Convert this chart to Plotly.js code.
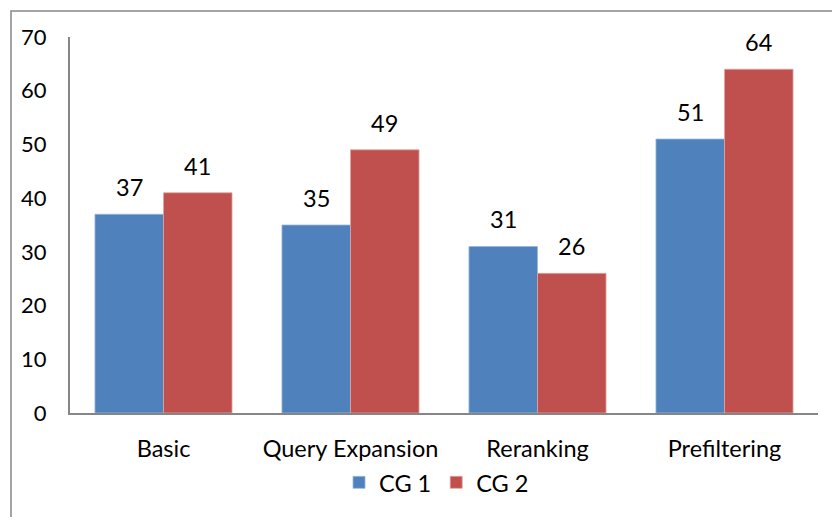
<!DOCTYPE html>
<html>
<head>
<meta charset="utf-8">
<script src="https://cdn.plot.ly/plotly-3.0.1.min.js"></script>
<style>body{margin:0;background:#fff}#chart{width:832px;height:517px}</style>
</head>
<body>
<div id="chart"></div>
<script>
const categories = ["Basic", "Query Expansion", "Reranking", "Prefiltering"];
const seriesNames = ["CG 1", "CG 2"];
const cg1 = [37, 35, 31, 51];
const cg2 = [41, 49, 26, 64];
const yTicks = [0, 10, 20, 30, 40, 50, 60, 70];

const colors = ["#4F81BD", "#C0504D"];
const FONT = "Lato, 'Open Sans', sans-serif";
const FS = 23.5;
const allSeries = [cg1, cg2];

const traces = allSeries.map((vals, i) => ({
  type: "bar",
  name: seriesNames[i],
  x: categories,
  y: vals,
  marker: {color: colors[i], line: {color: i === 0 ? "#9BB7DA" : "#E0A4A2", width: 0.8}},
  hoverinfo: "x+y"
}));

const barHalf = 34.25;
const annotations = [];
allSeries.forEach((vals, i) => {
  vals.forEach((v, j) => {
    annotations.push({
      x: categories[j], y: v, xref: "x", yref: "y",
      text: String(v), showarrow: false,
      xshift: i === 0 ? -barHalf : barHalf,
      yanchor: "bottom", yshift: 11,
      font: {family: FONT, size: FS, color: "#000"}
    });
  });
});

const layout = {
  width: 832, height: 517,
  margin: {l: 70, r: 14, t: 37, b: 104},
  paper_bgcolor: "#fff", plot_bgcolor: "#fff",
  barmode: "group", bargap: 0.267, bargroupgap: 0,
  showlegend: true,
  legend: {orientation: "h", x: 0.49, xanchor: "center", y: -0.185, yanchor: "middle",
           bgcolor: "rgba(0,0,0,0)",
           font: {family: FONT, size: FS, color: "#000"}, itemwidth: 30, traceorder: "normal"},
  xaxis: {showline: true, linecolor: "#868686", linewidth: 2, showgrid: false, ticks: "",
          ticklabelstandoff: 14, tickfont: {family: FONT, size: FS, color: "#000"}, fixedrange: true},
  yaxis: {range: [0, 70], tickvals: yTicks, ticktext: yTicks.map(String), showline: true,
          linecolor: "#868686", linewidth: 2, showgrid: false, zeroline: false, ticks: "",
          ticklabelstandoff: 17, tickfont: {family: FONT, size: 22, color: "#000"}, fixedrange: true},
  annotations: annotations,
  shapes: [{type: "rect", xref: "paper", yref: "paper",
            x0: (11 - 70) / 748, x1: 1.05, y0: -0.35, y1: (413 - 11) / 376,
            line: {color: "#868686", width: 1.5}, fillcolor: "rgba(0,0,0,0)", layer: "below"}],
  font: {family: FONT}
};

Plotly.newPlot("chart", traces, layout, {displayModeBar: false, staticPlot: true});
</script>
</body>
</html>
